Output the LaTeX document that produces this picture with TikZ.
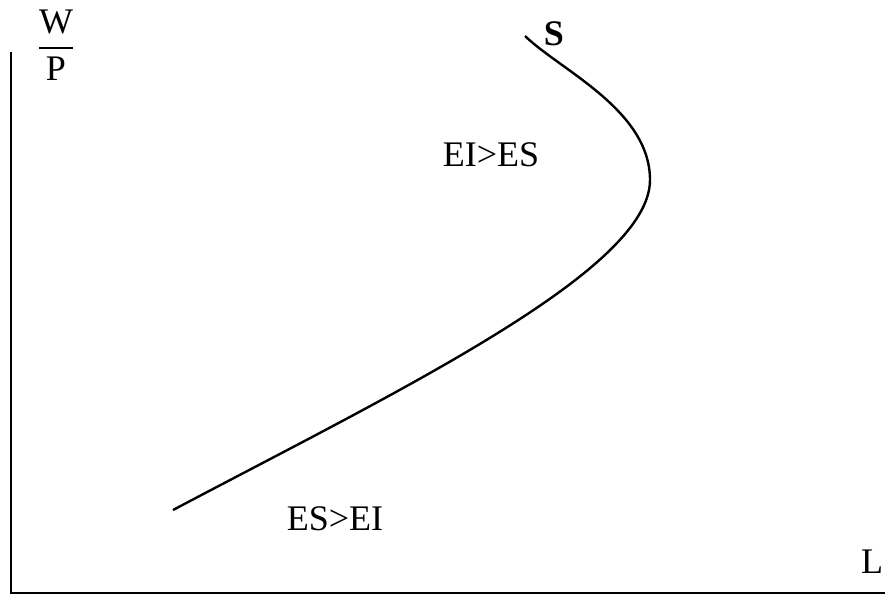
\documentclass[tikz,border=0pt]{standalone}
\usepackage{amsmath}
\usepackage{fontspec}
\setmainfont{Liberation Serif}
\usepackage{tikz}

\begin{document}
\begin{tikzpicture}[x=0.5pt,y=-0.5pt,every node/.style={font=\fontsize{18}{20}\selectfont,inner sep=0pt}]
\useasboundingbox (0,0) rectangle (885,596);
\draw[line width=1pt] (11,52) -- (11,593) -- (885,593);
\node (wp) at (56,45) {$\dfrac{\text{W}}{\text{P}}$};
\node (lab) at (872,562) {L};
\draw[line width=1.2pt] (173,510) .. controls (400,390) and (650,270) .. (650,180)
  .. controls (650,110) and (560,70) .. (525,36);
\node (s) at (554,34) {\textbf{S}};
\node (eies) at (491,155) {EI>ES};
\node (esei) at (335,519) {ES>EI};
\end{tikzpicture}
\end{document}
